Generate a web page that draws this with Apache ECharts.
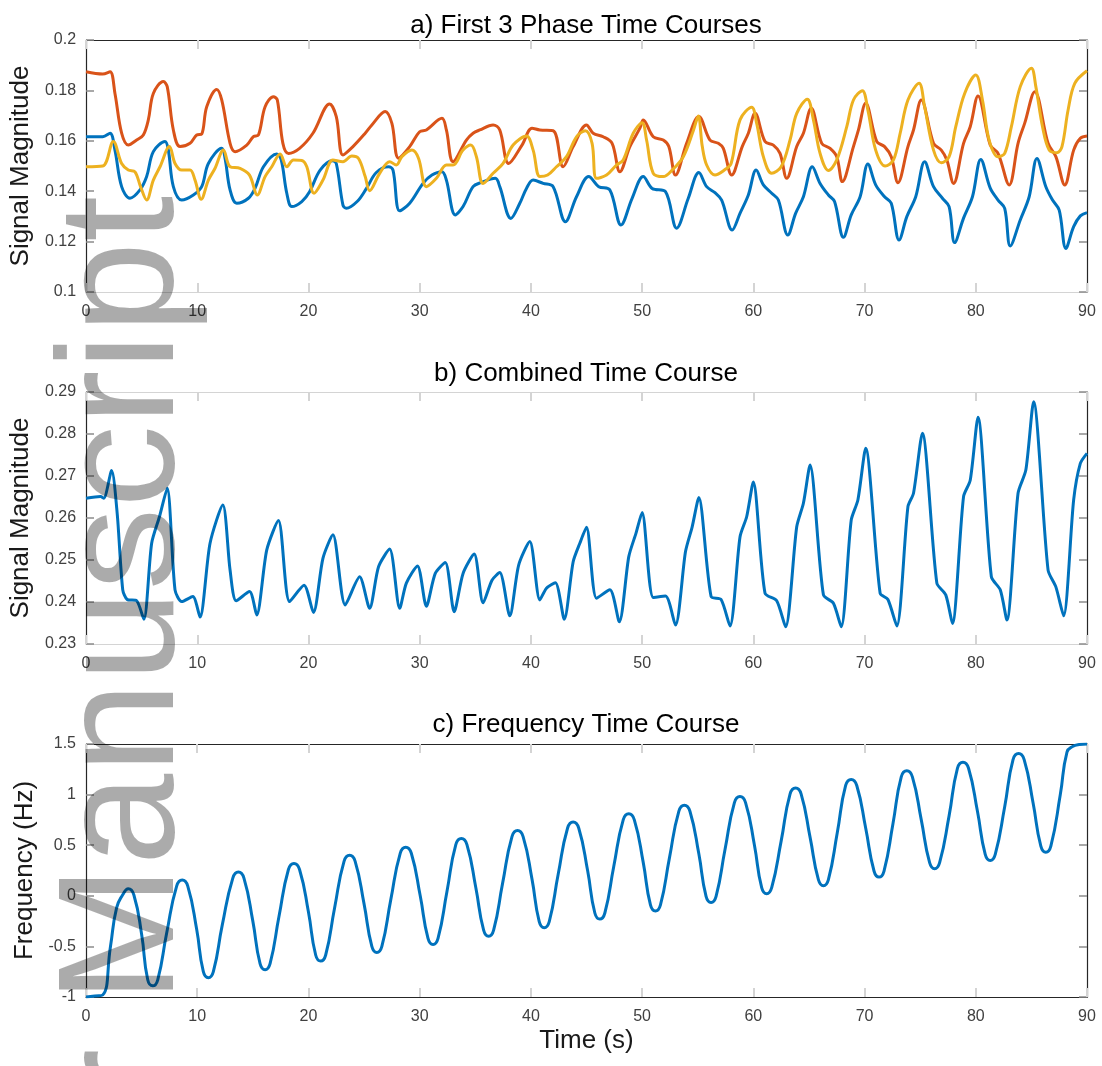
<!DOCTYPE html>
<html>
<head>
<meta charset="utf-8">
<script src="https://cdn.jsdelivr.net/npm/echarts@6/dist/echarts.min.js"></script>
<style>
  html, body { margin: 0; padding: 0; background: #fff; }
  #grafico { width: 1102px; height: 1066px; }
</style>
</head>
<body>
<div id="grafico"></div>
<script>
// a) as três fases, pares [tempo (s), magnitude]
const faseAzul = [
  [0,0.1616],[1.5,0.1616],[2.16,0.163],[2.6,0.1563],[3.2,0.1418],[3.95,0.1372],[4.85,0.1405],[5.45,0.1458],
  [6.05,0.1557],[7.1,0.1597],[7.4,0.1563],[7.85,0.1418],[8.6,0.1365],[9.65,0.1385],[10.4,0.1418],[11.0,0.151],
  [12.2,0.157],[12.5,0.153],[12.95,0.1405],[13.55,0.1352],[14.6,0.1372],[15.2,0.1412],[15.95,0.1497],[17.15,0.1548],
  [17.55,0.1524],[18.05,0.1392],[18.5,0.1339],[19.4,0.1359],[20.1,0.1398],[21.05,0.1484],[22.15,0.1521],[22.5,0.151],
  [23.1,0.1345],[23.4,0.1332],[24.4,0.136],[25.2,0.141],[26.1,0.1474],[27.2,0.1497],[27.6,0.1484],[28.2,0.1322],
  [29.1,0.1352],[30.3,0.1431],[31.1,0.1464],[32.0,0.1477],[32.4,0.1444],[33.2,0.1306],[33.9,0.1339],[34.8,0.1418],
  [35.5,0.1434],[36.8,0.1451],[37.2,0.1418],[38.2,0.1292],[39.0,0.1352],[39.6,0.1411],[40.2,0.1444],[41.1,0.1431],
  [42.0,0.1418],[43.1,0.1279],[44.1,0.1378],[45.2,0.1458],[46.1,0.1418],[47.1,0.1405],[48.1,0.1266],[49.1,0.1372],
  [50.1,0.1458],[50.9,0.1411],[52.1,0.1398],[53.1,0.1253],[54.15,0.1372],[55.1,0.1474],[55.8,0.1418],[56.55,0.1394],
  [57.15,0.1365],[58.1,0.1246],[58.8,0.1312],[59.55,0.1385],[60.25,0.1484],[60.9,0.1425],[61.65,0.1392],[62.25,0.1365],
  [63.1,0.1226],[63.8,0.1312],[64.5,0.1378],[65.3,0.1497],[66.0,0.1431],[66.75,0.1385],[67.3,0.1359],[68.1,0.1217],
  [68.8,0.1306],[69.6,0.1378],[70.3,0.1508],[71.0,0.1425],[71.8,0.1378],[72.4,0.1352],[73.1,0.1206],[73.8,0.1299],
  [74.6,0.1378],[75.4,0.1517],[76.2,0.1418],[77.0,0.1372],[77.6,0.1339],[78.1,0.1196],[78.9,0.1293],[79.7,0.1378],
  [80.45,0.1526],[81.3,0.1412],[82.0,0.1365],[82.6,0.1332],[83.1,0.1183],[84.0,0.1286],[84.8,0.1378],[85.5,0.153],
  [86.3,0.1418],[86.9,0.1365],[87.5,0.1325],[88.1,0.1173],[88.8,0.1259],[89.4,0.1302],[90,0.1315]
];
const faseLaranja = [
  [0,0.1874],[1.5,0.1865],[2.16,0.1874],[2.6,0.1788],[3.2,0.163],[3.8,0.1583],[4.55,0.1603],[5.15,0.1623],
  [5.6,0.1683],[6.05,0.1788],[6.95,0.1835],[7.3,0.1815],[7.85,0.1643],[8.45,0.1577],[9.35,0.159],[9.95,0.1623],
  [10.4,0.1627],[10.85,0.1735],[11.75,0.1804],[12.2,0.1762],[12.95,0.159],[13.4,0.1557],[14.45,0.1583],[15.05,0.1617],
  [15.5,0.1623],[16.1,0.1735],[16.85,0.1775],[17.2,0.1762],[17.7,0.159],[18.2,0.155],[19.2,0.157],[20.4,0.163],
  [21.9,0.1746],[22.5,0.1696],[23.1,0.1544],[24.0,0.1577],[25.1,0.163],[25.7,0.1663],[26.9,0.1716],[27.5,0.1669],
  [28.1,0.1531],[29.1,0.1577],[30.0,0.1636],[30.6,0.1643],[32.0,0.1689],[32.4,0.1643],[33.0,0.1517],[34.2,0.1603],
  [34.8,0.163],[35.4,0.1643],[36.6,0.1663],[37.2,0.1643],[38.0,0.151],[39.2,0.1583],[40.1,0.165],[40.8,0.1643],
  [42.0,0.164],[42.9,0.1497],[43.8,0.1577],[45.0,0.1663],[45.6,0.163],[46.5,0.1616],[47.3,0.159],[48.0,0.1477],
  [48.9,0.1577],[49.8,0.165],[50.1,0.1683],[51.0,0.1616],[51.9,0.1603],[52.4,0.1577],[53.0,0.1464],[54.0,0.159],
  [55.1,0.1696],[56.1,0.1603],[56.85,0.159],[57.3,0.157],[58.05,0.1464],[59.0,0.1577],[59.55,0.163],[60.15,0.1709],
  [61.05,0.1597],[61.8,0.1583],[62.4,0.155],[63.0,0.1451],[63.9,0.1577],[64.5,0.163],[65.2,0.1729],[66.15,0.159],
  [66.9,0.157],[67.5,0.1537],[68.0,0.1438],[69.0,0.1577],[69.45,0.1643],[70.1,0.1749],[71.1,0.1597],[71.8,0.1577],
  [72.4,0.1537],[73.0,0.1434],[73.9,0.1577],[74.4,0.1643],[75.1,0.1762],[76.2,0.159],[76.9,0.1563],[77.4,0.1524],
  [78.0,0.1431],[78.9,0.159],[79.5,0.1656],[80.2,0.1778],[81.3,0.1583],[82.0,0.155],[83.0,0.1425],[83.8,0.159],
  [84.4,0.167],[85.3,0.1795],[86.5,0.159],[87.2,0.1537],[88.0,0.1425],[88.8,0.1563],[89.4,0.161],[90,0.1619]
];
const faseAmarela = [
  [0,0.1497],[1.5,0.15],[2.45,0.1597],[3.2,0.151],[3.8,0.1484],[4.4,0.1477],[4.9,0.1418],[5.45,0.1365],
  [6.05,0.1444],[6.65,0.1497],[7.5,0.1577],[8.0,0.151],[8.6,0.1484],[9.35,0.1484],[9.8,0.1444],[10.35,0.1368],
  [11.0,0.1444],[11.6,0.1491],[12.35,0.1563],[12.95,0.1497],[13.85,0.1491],[14.7,0.1464],[15.4,0.1385],[16.1,0.1458],
  [16.7,0.1497],[17.45,0.1548],[18.05,0.1497],[18.65,0.1524],[19.4,0.1522],[19.85,0.1497],[20.5,0.1392],[21.3,0.1444],
  [22.2,0.1524],[23.1,0.1517],[23.9,0.154],[24.5,0.153],[25.1,0.1458],[25.5,0.1402],[26.4,0.1471],[27.3,0.1517],
  [27.9,0.1504],[28.4,0.1537],[29.3,0.1563],[29.9,0.153],[30.6,0.1418],[31.5,0.1451],[32.4,0.1504],[33.0,0.1504],
  [33.9,0.1563],[34.6,0.1583],[35.1,0.1537],[35.7,0.1431],[36.6,0.1471],[37.5,0.151],[38.4,0.1583],[39.6,0.1619],
  [40.2,0.1563],[40.8,0.1458],[41.5,0.1464],[42.3,0.1497],[43.2,0.1537],[44.1,0.1616],[44.9,0.164],[45.5,0.159],
  [45.9,0.1451],[46.8,0.1464],[47.7,0.1504],[48.3,0.1524],[49.2,0.163],[50.0,0.1672],[50.4,0.1603],[51.0,0.1471],
  [51.9,0.1458],[52.7,0.1484],[53.7,0.1537],[54.6,0.164],[55.05,0.1698],[55.4,0.158],[55.8,0.1504],[56.55,0.1464],
  [57.4,0.1484],[58.0,0.151],[58.8,0.1683],[59.85,0.1733],[60.3,0.1669],[60.9,0.1537],[61.65,0.1471],[62.5,0.1497],
  [63.3,0.1603],[63.9,0.1709],[64.85,0.1765],[65.4,0.1683],[66.0,0.155],[66.75,0.1482],[67.5,0.1524],[68.4,0.1656],
  [69.0,0.1762],[69.8,0.1799],[70.3,0.1722],[71.0,0.1563],[71.85,0.15],[72.6,0.1524],[73.2,0.163],[73.9,0.1762],
  [74.9,0.1828],[75.4,0.1735],[76.2,0.1563],[76.9,0.1513],[77.6,0.1537],[78.2,0.1656],[79.0,0.1788],[80.0,0.1861],
  [80.6,0.1762],[81.2,0.1603],[82.0,0.1537],[82.6,0.155],[83.2,0.1656],[84.0,0.1815],[85.0,0.1888],[85.4,0.1815],
  [86.0,0.1656],[86.6,0.1563],[87.3,0.1553],[87.75,0.1577],[88.3,0.1722],[88.9,0.1828],[90,0.1878]
];

// b) curso temporal combinado
const combinado = [
  [0,0.2647],[1.3,0.2651],[1.6,0.2647],[2.3,0.2713],[2.8,0.2611],[3.3,0.2429],[3.7,0.2406],[4.55,0.2403],
  [5.2,0.2359],[5.9,0.254],[6.6,0.2603],[7.3,0.2671],[8.0,0.2429],[8.6,0.2401],[9.6,0.2413],[10.25,0.2364],
  [11.15,0.254],[12.3,0.2631],[12.95,0.2476],[13.5,0.2403],[14.7,0.2425],[15.35,0.2369],[16.25,0.2524],[17.3,0.2594],
  [18.3,0.2401],[19.6,0.244],[20.45,0.2375],[21.3,0.2504],[22.2,0.256],[23.3,0.2393],[24.6,0.246],[25.5,0.2385],
  [26.3,0.2484],[27.3,0.2526],[28.2,0.2385],[28.8,0.2445],[29.8,0.2486],[30.6,0.239],[31.4,0.2468],[32.3,0.2494],
  [33.1,0.2377],[33.9,0.2468],[34.9,0.2514],[35.7,0.2398],[36.5,0.2452],[37.2,0.247],[38.1,0.2367],[38.9,0.2488],
  [39.9,0.2544],[40.8,0.2405],[41.4,0.2433],[42.2,0.2446],[43.0,0.2359],[43.8,0.2496],[44.4,0.254],[45.0,0.2578],
  [45.9,0.2409],[47.1,0.2429],[47.95,0.2353],[48.8,0.2508],[49.45,0.2564],[50.0,0.2613],[51.0,0.2411],[52.1,0.2414],
  [53.0,0.2345],[53.9,0.252],[54.5,0.2579],[55.1,0.2649],[56.2,0.2413],[57.1,0.2406],[57.9,0.2343],[58.8,0.2555],
  [59.4,0.2603],[60.0,0.2686],[61.05,0.2421],[62.1,0.2403],[62.9,0.2341],[63.9,0.2579],[64.5,0.2635],[65.1,0.2726],
  [66.3,0.2417],[67.2,0.2397],[67.9,0.2341],[68.8,0.2595],[69.4,0.2643],[70.1,0.2766],[71.4,0.2421],[72.1,0.2406],
  [72.9,0.2343],[73.9,0.2627],[74.4,0.2659],[75.2,0.2802],[76.5,0.2445],[77.3,0.2417],[77.9,0.2349],[78.9,0.2651],
  [79.5,0.269],[80.2,0.284],[81.4,0.246],[82.2,0.2429],[82.8,0.2357],[83.8,0.2659],[84.5,0.2714],[85.2,0.2877],
  [86.5,0.2476],[87.2,0.2436],[87.9,0.2367],[88.8,0.2643],[89.4,0.273],[90,0.2754]
];

// c) curso temporal da frequência (vales e picos arredondados)
const frequencia = [
  [0,-1],[0.8,-0.99],[1.5,-0.98],[2.2,-0.5],[2.75,-0.12],
  [3.3,0.01],[3.8,0.07],[4.3,0.01],[5.0,-0.38],
  [5.55,-0.83],[6.0,-0.89],[6.45,-0.83],[7.25,-0.37],
  [8.15,0.095],[8.65,0.155],[9.15,0.095],[9.95,-0.33],
  [10.55,-0.75],[11.0,-0.81],[11.45,-0.75],[12.25,-0.29],
  [13.2,0.175],[13.7,0.235],[14.2,0.175],[15.0,-0.25],
  [15.65,-0.67],[16.1,-0.73],[16.55,-0.67],[17.35,-0.205],
  [18.2,0.26],[18.7,0.32],[19.2,0.26],[20.0,-0.16],
  [20.65,-0.585],[21.1,-0.645],[21.55,-0.585],[22.35,-0.12],
  [23.2,0.34],[23.7,0.40],[24.2,0.34],[25.0,-0.08],
  [25.7,-0.50],[26.15,-0.56],[26.6,-0.50],[27.4,-0.04],
  [28.25,0.42],[28.75,0.48],[29.25,0.42],[30.05,0.0],
  [30.75,-0.42],[31.2,-0.48],[31.65,-0.42],[32.45,0.04],
  [33.25,0.505],[33.75,0.565],[34.25,0.505],[35.05,0.08],
  [35.75,-0.34],[36.2,-0.40],[36.65,-0.34],[37.45,0.12],
  [38.3,0.585],[38.8,0.645],[39.3,0.585],[40.1,0.165],
  [40.75,-0.255],[41.2,-0.315],[41.65,-0.255],[42.45,0.21],
  [43.3,0.67],[43.8,0.73],[44.3,0.67],[45.1,0.25],
  [45.75,-0.17],[46.2,-0.23],[46.65,-0.17],[47.45,0.29],
  [48.3,0.75],[48.8,0.81],[49.3,0.75],[50.1,0.33],
  [50.75,-0.09],[51.2,-0.15],[51.65,-0.09],[52.45,0.37],
  [53.3,0.835],[53.8,0.895],[54.3,0.835],[55.1,0.415],
  [55.75,-0.005],[56.2,-0.065],[56.65,-0.005],[57.45,0.455],
  [58.3,0.92],[58.8,0.98],[59.3,0.92],[60.1,0.50],
  [60.75,0.08],[61.2,0.02],[61.65,0.08],[62.5,0.54],
  [63.3,1.005],[63.8,1.065],[64.3,1.005],[65.1,0.58],
  [65.85,0.16],[66.3,0.10],[66.75,0.16],[67.55,0.625],
  [68.3,1.09],[68.8,1.15],[69.3,1.09],[70.1,0.67],
  [70.85,0.245],[71.3,0.185],[71.75,0.245],[72.55,0.71],
  [73.3,1.175],[73.8,1.235],[74.3,1.175],[75.1,0.75],
  [75.85,0.327],[76.3,0.267],[76.75,0.327],[77.6,0.79],
  [78.35,1.26],[78.85,1.32],[79.35,1.26],[80.15,0.835],
  [80.85,0.41],[81.3,0.35],[81.75,0.41],[82.6,0.88],
  [83.35,1.345],[83.85,1.405],[84.35,1.345],[85.15,0.92],
  [85.85,0.49],[86.3,0.43],[86.75,0.49],[87.6,1.0],
  [88.2,1.42],[88.7,1.475],[89.3,1.495],[90,1.5]
];

// Textos e escalas
const titulos = ['a) First 3 Phase Time Courses', 'b) Combined Time Course', 'c) Frequency Time Course'];
const nomesY = ['Signal Magnitude', 'Signal Magnitude', 'Frequency (Hz)'];
const escalasY = [[0.1, 0.2, 0.02], [0.23, 0.29, 0.01], [-1, 1.5, 0.5]];
const escalaX = [0, 90, 10];
const nomeX = 'Time (s)';
const marcaDagua = 'Author Manuscript';

const FONTE = '"Liberation Sans", Arial, Helvetica, sans-serif';
const ESCURO = '#262626';
const CLARO = '#d4d4d4';
const cores = ['#0072BD', '#D95319', '#EDB120'];

// Posições de cada painel
const topos = [40, 392, 744];
const alturas = [252, 252, 253];
const toposTitulo = [13, 361, 712];
const gapsNomeY = [48, 48, 42];
// cor da linha de baixo e de cima de cada painel
const bordas = [[CLARO, ESCURO], [CLARO, CLARO], [ESCURO, ESCURO]];

function formatar(v) {
    return String(+v.toFixed(2));
}

// Monta os dois eixos X (embaixo e em cima) de um painel
function eixosX(i) {
    const base = {
        gridIndex: i, type: 'value', min: escalaX[0], max: escalaX[1], interval: escalaX[2],
        splitLine: { show: false },
        axisTick: { show: true, inside: true, length: 9, lineStyle: { color: CLARO, width: 2 } }
    };
    return [
        Object.assign({}, base, {
            position: 'bottom',
            axisLine: { show: true, onZero: false, lineStyle: { color: bordas[i][0], width: 1.2 } },
            axisLabel: { margin: 12, color: '#404040', fontSize: 16, fontFamily: FONTE },
            name: i === 2 ? nomeX : '',
            nameLocation: 'middle',
            nameGap: 31,
            nameTextStyle: { fontSize: 26, color: '#1a1a1a', fontFamily: FONTE }
        }),
        Object.assign({}, base, {
            position: 'top',
            axisLine: { show: true, onZero: false, lineStyle: { color: bordas[i][1], width: 1.2 } },
            axisLabel: { show: false }
        })
    ];
}

// Monta os dois eixos Y (esquerda e direita) de um painel
function eixosY(i) {
    const e = escalasY[i];
    const base = {
        gridIndex: i, type: 'value', min: e[0], max: e[1], interval: e[2],
        splitLine: { show: false },
        axisLine: { show: true, onZero: false, lineStyle: { color: ESCURO, width: 1.2 } },
        axisTick: { show: true, inside: true, length: 8, lineStyle: { color: '#8c8c8c', width: 1.5 } }
    };
    return [
        Object.assign({}, base, {
            position: 'left',
            axisLabel: { margin: 10, color: '#404040', fontSize: 16, fontFamily: FONTE, formatter: formatar },
            name: nomesY[i],
            nameLocation: 'middle',
            nameGap: gapsNomeY[i],
            nameTextStyle: { fontSize: 26, color: '#1a1a1a', fontFamily: FONTE }
        }),
        Object.assign({}, base, { position: 'right', axisLabel: { show: false } })
    ];
}

function serie(dados, painel, cor, suave) {
    return {
        type: 'line',
        data: dados,
        xAxisIndex: painel * 2,
        yAxisIndex: painel * 2,
        showSymbol: false,
        smooth: suave,
        lineStyle: { color: cor, width: 3 },
        itemStyle: { color: cor },
        animation: false
    };
}

function desenharGrafico() {
    const chart = echarts.init(document.getElementById('grafico'), null, { renderer: 'canvas' });

    const grids = topos.map((t, i) => ({ left: 86, right: 15, top: t, height: alturas[i] }));
    const xAxis = [].concat(eixosX(0), eixosX(1), eixosX(2));
    const yAxis = [].concat(eixosY(0), eixosY(1), eixosY(2));

    const title = titulos.map((t, i) => ({
        text: t,
        left: 586,
        top: toposTitulo[i],
        textAlign: 'center',
        padding: 0,
        textStyle: { fontSize: 26, fontWeight: 'normal', color: '#000', fontFamily: FONTE }
    }));

    chart.setOption({
        backgroundColor: '#fff',
        animation: false,
        title,
        grid: grids,
        xAxis,
        yAxis,
        series: [
            serie(faseAzul, 0, cores[0], 0.35),
            serie(faseLaranja, 0, cores[1], 0.35),
            serie(faseAmarela, 0, cores[2], 0.35),
            serie(combinado, 1, cores[0], 0.25),
            serie(frequencia, 2, cores[0], 0.5)
        ],
        // marca d'água vertical por cima do gráfico
        graphic: [{
            type: 'text',
            x: 210,
            y: 196,
            rotation: Math.PI / 2,
            z: 100,
            silent: true,
            style: {
                text: marcaDagua,
                font: '165px "Liberation Sans", Arial, sans-serif',
                fill: 'rgba(0,0,0,0.33)',
                align: 'right',
                verticalAlign: 'bottom',
                textAlign: 'right',
                textVerticalAlign: 'bottom'
            }
        }]
    });
}

desenharGrafico();
</script>
</body>
</html>
